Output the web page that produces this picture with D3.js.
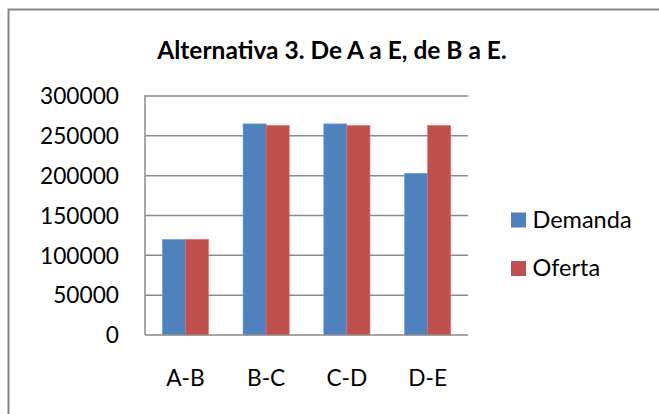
<!DOCTYPE html>
<html>
<head>
<meta charset="utf-8">
<script src="https://cdn.jsdelivr.net/npm/d3@7"></script>
<style>
  html, body { margin: 0; padding: 0; background: #fff; }
  svg { display: block; }
  text { font-family: Lato, "Liberation Sans", sans-serif; fill: #000; }
</style>
</head>
<body>
<svg id="chart" width="659" height="414"></svg>
<script>
// Flow per segment: demand vs. supply
const categories = ["A-B", "B-C", "C-D", "D-E"];
const seriesNames = ["Demanda", "Oferta"];
const demanda = [120000, 265000, 265000, 203000];
const oferta = [120000, 263000, 263000, 263000];
const yTicks = [0, 50000, 100000, 150000, 200000, 250000, 300000];
const title = "Alternativa 3. De A a E, de B a E.";
const colors = ["#4F81BD", "#C0504D"];

const svg = d3.select("#chart");
const plot = { left: 145, right: 468, top: 96, bottom: 335 };

// Outer chart frame
svg.append("rect")
  .attr("x", 8.5).attr("y", 9.5)
  .attr("width", 700).attr("height", 450)
  .attr("fill", "#fff")
  .attr("stroke", "#868686").attr("stroke-width", 2);

// Title
svg.append("text")
  .attr("x", 332).attr("y", 59)
  .attr("text-anchor", "middle")
  .style("font-weight", "bold")
  .style("font-size", "24.5px")
  .text(title);

const x0 = d3.scaleBand()
  .domain(categories)
  .range([plot.left, plot.right])
  .paddingInner(1.5 / 3.5)
  .paddingOuter(0.75 / 3.5);

const x1 = d3.scaleBand()
  .domain(seriesNames)
  .range([0, x0.bandwidth()]);

const y = d3.scaleLinear()
  .domain([0, 300000])
  .range([plot.bottom, plot.top]);

// Horizontal gridlines
svg.append("g")
  .selectAll("line")
  .data(yTicks.filter(d => d > 0))
  .join("line")
  .attr("x1", plot.left).attr("x2", plot.right)
  .attr("y1", d => y(d)).attr("y2", d => y(d))
  .attr("stroke", "#8a8a8a").attr("stroke-width", 1.5);

// Y tick labels
svg.append("g")
  .selectAll("text")
  .data(yTicks)
  .join("text")
  .attr("x", 119)
  .attr("y", d => y(d))
  .attr("dy", "0.36em")
  .attr("text-anchor", "end")
  .style("font-size", "22.7px")
  .text(d => d);

// Bars
const rows = categories.map((c, i) => ({ cat: c, values: [demanda[i], oferta[i]] }));
const groups = svg.append("g")
  .selectAll("g")
  .data(rows)
  .join("g")
  .attr("transform", d => `translate(${x0(d.cat)},0)`);

groups.selectAll("rect")
  .data(d => d.values.map((v, j) => ({ name: seriesNames[j], value: v, color: colors[j] })))
  .join("rect")
  .attr("x", d => x1(d.name))
  .attr("y", d => y(d.value))
  .attr("width", x1.bandwidth())
  .attr("height", d => y(0) - y(d.value))
  .attr("fill", d => d.color)
  .attr("stroke", d => d3.color(d.color).brighter(0.6))
  .attr("stroke-width", 0.6);

// Axis lines
svg.append("line")
  .attr("x1", plot.left).attr("x2", plot.left)
  .attr("y1", plot.top - 0.75).attr("y2", plot.bottom)
  .attr("stroke", "#8a8a8a").attr("stroke-width", 1.5);
svg.append("line")
  .attr("x1", plot.left).attr("x2", plot.right)
  .attr("y1", plot.bottom).attr("y2", plot.bottom)
  .attr("stroke", "#8a8a8a").attr("stroke-width", 1.5);

// X category labels
svg.append("g")
  .selectAll("text")
  .data(categories)
  .join("text")
  .attr("x", d => x0(d) + x0.bandwidth() / 2)
  .attr("y", 386)
  .attr("text-anchor", "middle")
  .style("font-size", "22.7px")
  .text(d => d);

// Legend
const legend = svg.append("g")
  .selectAll("g")
  .data(seriesNames)
  .join("g")
  .attr("transform", (d, i) => `translate(511,${212.5 + i * 48.5})`);
legend.append("rect")
  .attr("width", 15).attr("height", 15)
  .attr("fill", (d, i) => colors[i]);
legend.append("text")
  .attr("x", 21.5).attr("y", 15)
  .style("font-size", "23.5px")
  .text(d => d);
</script>
</body>
</html>
